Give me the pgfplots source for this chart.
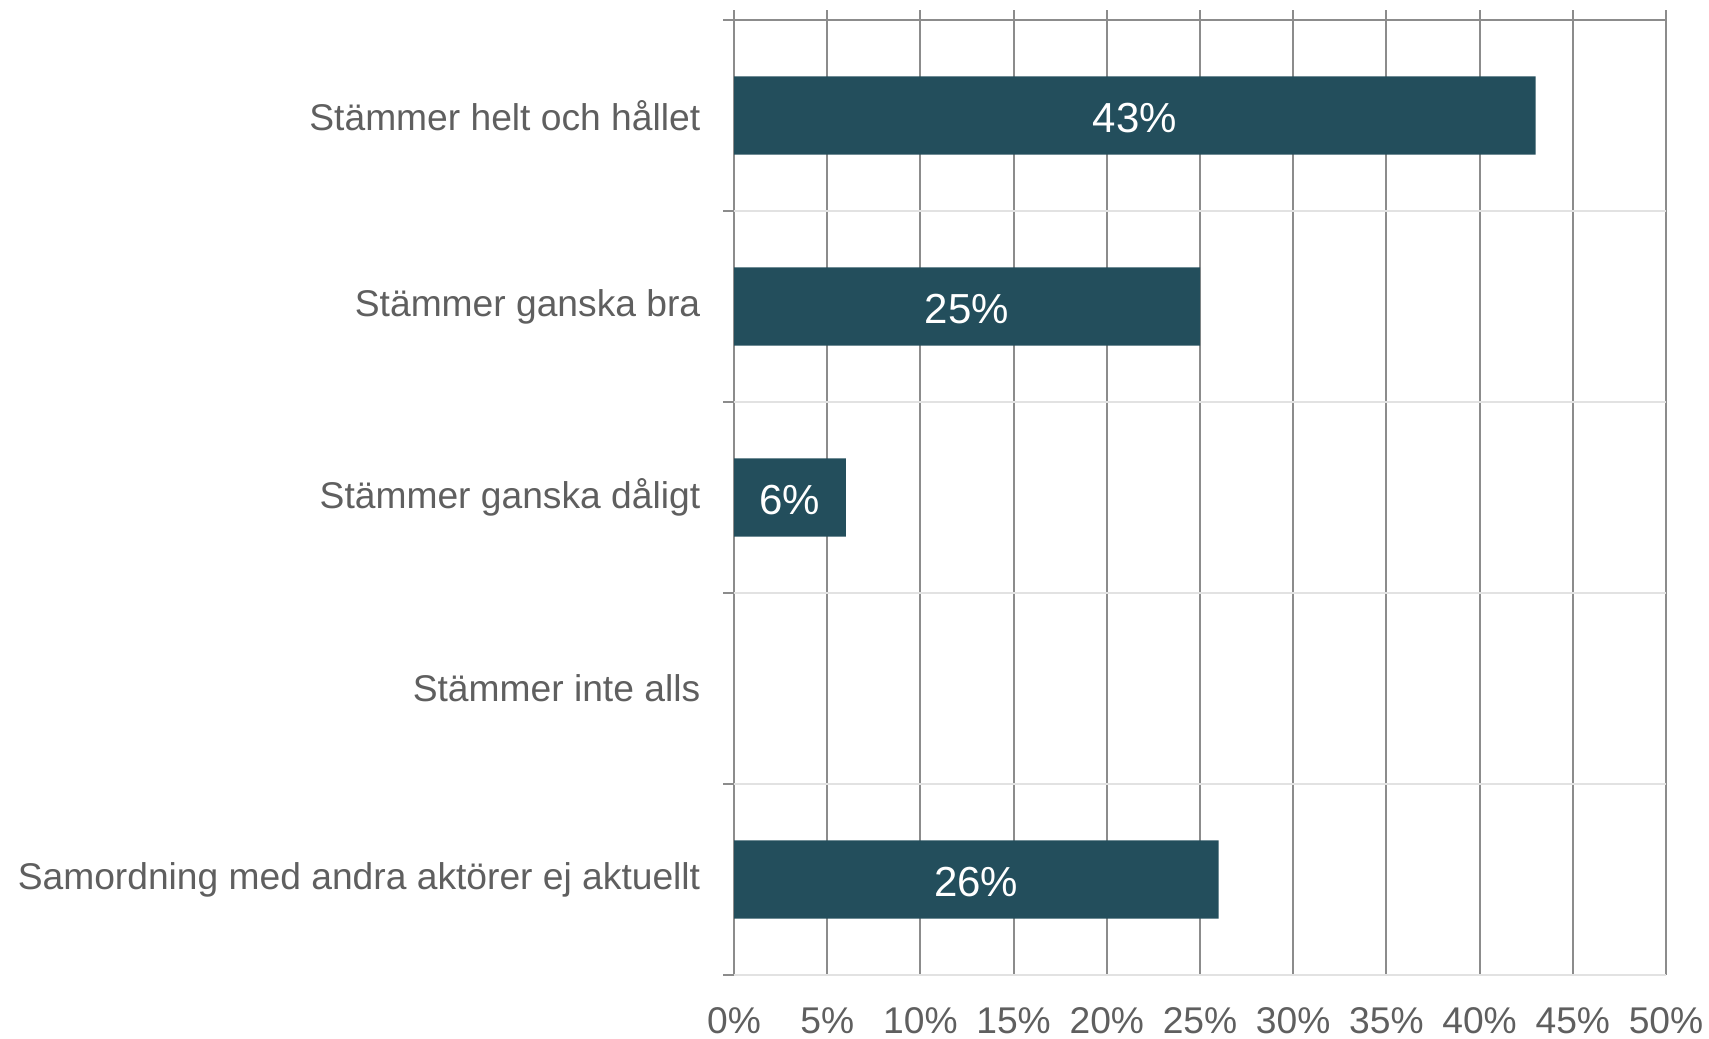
\documentclass[border=0pt]{standalone}
\usepackage{fontspec}
\setmainfont{Liberation Sans}
\usepackage{pgfplots}
\pgfplotsset{compat=1.18}

\definecolor{barteal}{HTML}{234E5C}
\definecolor{labgray}{HTML}{5F5F5F}
\definecolor{gridgray}{HTML}{8C8C8C}
\definecolor{sepgray}{HTML}{E2E2E2}

\begin{document}
\begin{tikzpicture}
\path[use as bounding box] (0,0) rectangle (427.25pt,259.5pt);
\begin{axis}[
    at={(183.5pt,15.75pt)},
    anchor=south west,
    scale only axis,
    width=233pt,
    height=241.25pt,
    xbar,
    bar width=0.41,
    xmin=0, xmax=50,
    ymin=-0.5524, ymax=4.5,
    y dir=reverse,
    xtick={0,5,...,50},
    xticklabel={\pgfmathprintnumber{\tick}\%},
    ytick={0,1,2,3,4},
    yticklabels={Stämmer helt och hållet, Stämmer ganska bra, Stämmer ganska dåligt, Stämmer inte alls, Samordning med andra aktörer ej aktuellt},
    axis line style={draw=none},
    major tick length=0pt,
    xmajorgrids,
    grid style={gridgray, line width=0.5pt},
    tick label style={font=\fontsize{9.3}{11}\selectfont, text=labgray},
    xticklabel style={anchor=base, yshift=-14.5pt},
    yticklabel style={anchor=east, inner sep=0pt, xshift=-8.25pt},
    /pgf/number format/assume math mode=true,
    clip=false,
    nodes near coords={\pgfmathprintnumber{\pgfplotspointmeta}\%},
    visualization depends on={x \as \rawx},
    every node near coord/.append style={anchor=center, text=white,
        font=\fontsize{10.5}{12}\selectfont, yshift=-0.6pt,
        shift={(axis direction cs:-\rawx/2,0)}},
]
\addplot[fill=barteal, draw=none] coordinates {
    (43,0) (25,1) (6,2) (26,4)
};
\draw[gridgray, line width=0.6pt] (axis cs:0,-0.5) -- (axis cs:50,-0.5);
\draw[sepgray, line width=0.6pt] (axis cs:0,0.5) -- (axis cs:50,0.5);
\draw[sepgray, line width=0.6pt] (axis cs:0,1.5) -- (axis cs:50,1.5);
\draw[sepgray, line width=0.6pt] (axis cs:0,2.5) -- (axis cs:50,2.5);
\draw[sepgray, line width=0.6pt] (axis cs:0,3.5) -- (axis cs:50,3.5);
\draw[sepgray, line width=0.6pt] (axis cs:0,4.5) -- (axis cs:50,4.5);
\draw[gridgray, line width=0.5pt] (axis cs:0,-0.5) -- ([xshift=-2.75pt]axis cs:0,-0.5);
\draw[gridgray, line width=0.5pt] (axis cs:0,0.5) -- ([xshift=-2.75pt]axis cs:0,0.5);
\draw[gridgray, line width=0.5pt] (axis cs:0,1.5) -- ([xshift=-2.75pt]axis cs:0,1.5);
\draw[gridgray, line width=0.5pt] (axis cs:0,2.5) -- ([xshift=-2.75pt]axis cs:0,2.5);
\draw[gridgray, line width=0.5pt] (axis cs:0,3.5) -- ([xshift=-2.75pt]axis cs:0,3.5);
\draw[gridgray, line width=0.5pt] (axis cs:0,4.5) -- ([xshift=-2.75pt]axis cs:0,4.5);
\end{axis}
\end{tikzpicture}
\end{document}
